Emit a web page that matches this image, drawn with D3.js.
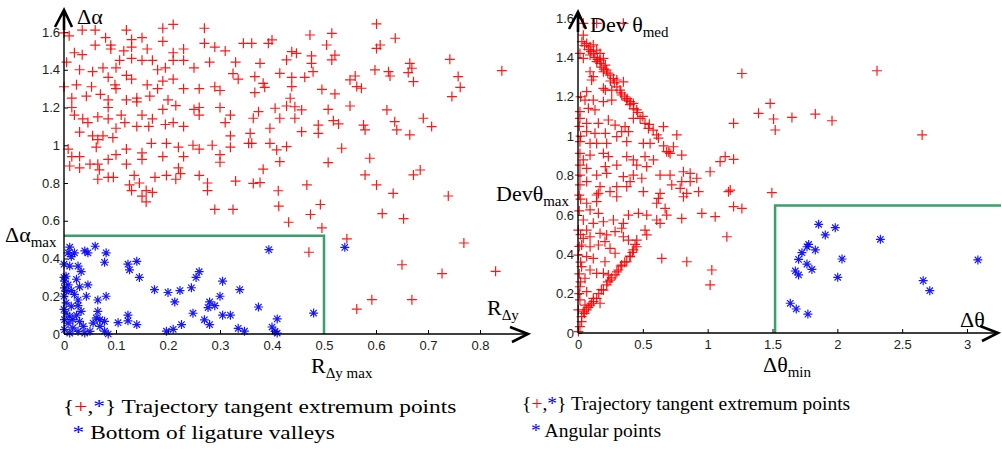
<!DOCTYPE html>
<meta charset="utf-8">
<style>
body{
	margin:0;
	background:#fff;
}
.tick text{
	font-family:"Liberation Sans",Arial,sans-serif;
	font-size:13px;
	fill:#222;
}
.tick line{
	stroke:#000;
}
.lbl{
	font-family:"Liberation Serif","Times New Roman",serif;
	font-size:22px;
	fill:#000;
}
.legend{
	font-family:"Liberation Serif","Times New Roman",serif;
	font-size:19.5px;
	fill:#000;
}
.axisline{
	stroke:#000;
	stroke-width:1.4px;
	fill:none;
}
.arrow{
	stroke:#000;
	stroke-width:2.6px;
	fill:none;
}
.limit{
	stroke:#3a9e6e;
	stroke-width:2.5px;
	fill:none;
}
.plus{
	stroke:#ff0000;
	stroke-width:1.2px;
	stroke-opacity:0.9;
	fill:none;
}
.star{
	stroke:#0000ff;
	stroke-width:1.2px;
	stroke-opacity:0.9;
	fill:none;
}
</style>
<body>
<script src="https://d3js.org/d3.v7.min.js"></script>
<script>

// left panel: R_dy vs delta alpha
var leftTangent=[
[0,1.595],[0.01,1.58],[0.035,1.61],[0.06,1.61],[0.08,1.57],[0.12,1.61],[0.13,1.56],[0.15,1.57],[0.19,1.62],[0.21,1.64],[0.27,1.62],[0.345,1.54],
[0.02,1.49],[0.035,1.48],[0.06,1.53],[0.09,1.53],[0.09,1.51],[0.115,1.50],[0.13,1.52],[0.16,1.51],[0.19,1.55],[0.21,1.49],[0.23,1.51],[0.27,1.54],[0.29,1.52],[0.31,1.50],
[0.005,1.44],[0.03,1.40],[0.055,1.39],[0.075,1.41],[0.10,1.41],[0.107,1.45],[0.13,1.46],[0.15,1.45],[0.17,1.45],[0.18,1.40],[0.195,1.41],[0.21,1.45],[0.23,1.45],[0.25,1.41],[0.28,1.44],[0.33,1.44],[0.325,1.38],
[0,1.31],[0.024,1.32],[0.053,1.31],[0.085,1.36],[0.098,1.32],[0.10,1.30],[0.12,1.37],[0.13,1.35],[0.16,1.32],[0.18,1.30],[0.19,1.34],[0.21,1.35],[0.23,1.30],[0.26,1.30],[0.29,1.31],[0.30,1.29],[0.335,1.35],
[0.015,1.25],[0.015,1.20],[0.043,1.26],[0.07,1.27],[0.085,1.24],[0.085,1.20],[0.12,1.24],[0.14,1.25],[0.14,1.23],[0.165,1.26],[0.20,1.24],[0.215,1.21],[0.19,1.19],[0.25,1.19],[0.26,1.20],[0.30,1.20],[0.32,1.16],
[0.02,1.16],[0.036,1.14],[0.046,1.12],[0.065,1.15],[0.085,1.14],[0.11,1.16],[0.117,1.12],[0.15,1.16],[0.17,1.14],[0.14,1.10],[0.163,1.10],[0.195,1.11],[0.21,1.12],[0.23,1.10],[0.26,1.16],[0.31,1.12],[0.32,1.05],
[0.008,0.98],[0.03,1.07],[0.055,1.05],[0.065,1.03],[0.062,0.99],[0.075,1.05],[0.094,1.04],[0.10,1.09],[0.12,0.98],[0.168,1.01],[0.197,1.01],[0.22,0.99],[0.248,1.00],[0.26,0.98],[0.285,1.00],[0.30,0.95],[0.32,0.99],[0.355,1.01],
[0.015,0.94],[0.03,0.94],[0.011,0.89],[0.03,0.88],[0.05,0.90],[0.065,0.90],[0.068,0.87],[0.085,0.925],[0.10,0.95],[0.12,0.90],[0.15,0.925],[0.15,0.96],[0.19,0.94],[0.22,0.88],[0.23,0.94],[0.30,0.91],
[0.065,0.82],[0.085,0.83],[0.095,0.83],[0.135,0.84],[0.175,0.83],[0.197,0.84],[0.215,0.82],[0.224,0.85],[0.26,0.84],[0.276,0.80],[0.33,0.81],[0.126,0.79],[0.145,0.80],
[0.13,0.76],[0.158,0.76],[0.17,0.75],[0.15,0.73],[0.276,0.76],
[0.158,0.70],[0.29,0.66],[0.325,0.66],
[0.413,0.677],[0.493,0.686],[0.474,0.633],[0.432,0.592],[0.496,0.562],[0.544,0.504],[0.612,0.638],[0.653,0.611],[0.471,0.433],[0.769,0.482],[0.65,0.367],[0.727,0.32],[0.83,0.332],[0.592,0.182],[0.669,0.182],[0.563,0.132],
[0.361,1.54],[0.393,1.54],[0.4,1.558],[0.473,1.584],[0.515,1.593],[0.601,1.643],[0.637,1.567],[0.608,1.531],[0.601,1.513],[0.505,1.531],[0.438,1.496],[0.447,1.487],[0.476,1.473],[0.521,1.478],[0.515,1.452],[0.476,1.434],[0.428,1.452],[0.377,1.434],[0.742,1.455],[0.842,1.395],
[0.665,1.434],[0.669,1.408],[0.662,1.385],[0.624,1.39],[0.627,1.367],[0.598,1.399],[0.672,1.337],[0.758,1.364],[0.762,1.307],[0.746,1.258],[0.367,1.364],[0.383,1.328],[0.386,1.307],[0.415,1.381],[0.438,1.36],[0.438,1.311],[0.463,1.36],[0.479,1.39],
[0.55,1.346],[0.56,1.367],[0.563,1.311],[0.572,1.302],[0.496,1.296],[0.521,1.272],[0.367,1.279],[0.435,1.249],[0.428,1.208],[0.444,1.204],[0.457,1.187],[0.406,1.196],[0.374,1.178],[0.364,1.143],[0.415,1.143],[0.444,1.143],[0.508,1.19],[0.55,1.208],
[0.621,1.187],[0.691,1.143],[0.707,1.099],[0.636,1.125],[0.64,1.081],[0.665,1.055],[0.576,1.107],[0.579,1.081],[0.518,1.13],[0.528,1.113],[0.489,1.107],[0.489,1.063],[0.457,1.072],[0.396,1.09],[0.358,1.063],[0.361,1.01],[0.396,1.01],[0.428,0.993],
[0.409,0.975],[0.534,0.984],[0.415,0.913],[0.508,0.908],[0.588,0.931],[0.383,0.873],[0.579,0.843],[0.672,0.843],[0.685,0.869],[0.364,0.798],[0.377,0.802],[0.412,0.759],[0.467,0.79],[0.601,0.79],[0.633,0.745],[0.739,0.731]
];
var leftValley=[
[0.011,0.46],[0.02,0.43],[0.008,0.43],[0.014,0.41],[0.04,0.44],[0.046,0.43],[0.06,0.465],[0.081,0.43],[0.078,0.38],[0,0.37],[0.011,0.36],[0.027,0.36],[0.033,0.33],
[0.123,0.37],[0.126,0.34],[0.14,0.385],[0.145,0.30],[0,0.30],[0.001,0.28],[0.008,0.26],[0.024,0.29],[0.03,0.25],[0.046,0.26],[0.014,0.23],[0.02,0.21],[0,0.20],
[0.027,0.18],[0.065,0.18],[0.081,0.20],[0.027,0.15],[0.174,0.235],[0.2,0.22],[0.213,0.17],[0.223,0.23],[0.245,0.245],[0.254,0.30],[0.26,0.33],[0.305,0.28],
[0.28,0.17],[0.30,0.20],[0.29,0.15],[0.277,0.14],[0.338,0.235],[0.32,0.10],[0.305,0.10],[0.248,0.11],[0.27,0.075],[0.28,0.05],[0.226,0.05],[0.197,0.015],
[0.21,0.025],[0.335,0.03],[0.347,0.015],[0.123,0.10],[0.123,0.07],[0.14,0.05],[0.104,0.06],[0.065,0.12],[0.062,0.085],[0.078,0.067],[0.069,0.04],[0.078,0.015],
[0.085,0],[0,0.13],[0.004,0.11],[0.011,0.094],[0.001,0.076],[0.008,0.058],[0.017,0.076],[0.024,0.10],[0.03,0.067],[0.037,0.04],[0.017,0.032],[0.001,0.023],
[0.011,0.005],[0.027,0.014],[0.04,0.005],[0.004,0.165],[0.014,0.147],[0.033,0.12],[0.043,0.2],[0.004,0.226],[0.001,0.244],[0.05,0.014],[0.056,0.058],[0.069,0.076],[0.004,0.306],
[0.394,0.447],[0.54,0.459],[0.374,0.143],[0.48,0.111],[0.41,0.08],[0.4,0.037],[0.406,0.014],[0.41,0.005]
];
var leftXTicks=[0,0.1,0.2,0.3,0.4,0.5,0.6,0.7,0.8];
var leftYTicks=[0,0.2,0.4,0.6,0.8,1,1.2,1.4,1.6];
var rDyMax=0.5, dAlphaMax=0.52;

// right panel: delta theta vs Dev theta
var rightTangent=[
[0.041,1.573],[0.144,1.573],[0.35,1.573],
[0.041,1.513],[0.067,1.471],[0.093,1.454],[0.118,1.463],[0.144,1.437],[0.17,1.42],[0.093,1.412],[0.015,1.42],[0.041,1.395],[0.17,1.386],[0.196,1.395],[0.144,1.378],
[0.211,1.361],[0.221,1.336],[0.093,1.327],[0.118,1.302],[0.105,1.285],[0.196,1.327],[0.247,1.31],[0.273,1.293],[0.299,1.285],[0.35,1.276],[0.196,1.243],[0.211,1.234],
[0.26,1.234],[0.324,1.234],[0.337,1.209],[0.376,1.183],[0.402,1.175],[0.427,1.166],[0.453,1.133],[0.067,1.226],[0.054,1.183],[0.118,1.183],[0.196,1.175],[0.26,1.183],
[0.015,1.124],[0.08,1.141],[0.131,1.133],[0.015,1.09],[0.067,1.065],[0.157,1.065],[0.234,1.082],[0.286,1.056],[0.363,1.048],[0.427,1.09],[0.479,1.09],[0.517,1.065],
[0.543,1.039],[0.659,1.048],[0.607,1.006],[0.762,1.006],[0.067,1.023],[0.131,1.014],[0.211,1.014],[0.337,1.023],[0.389,1.023],[0.299,0.997],[0.015,0.972],[0.093,0.963],
[0.144,0.963],[0.221,0.963],[0.376,0.972],[0.504,0.963],[0.556,0.963],[0.736,0.946],[0.684,0.921],[0.71,0.912],[0.8,0.904],[0.015,0.912],[0.041,0.879],[0.093,0.904],
[0.196,0.912],[0.234,0.896],[0.376,0.896],[0.427,0.879],[0.517,0.896],[0.582,0.879],[0.015,0.853],[0.067,0.836],[0.211,0.845],[0.299,0.853],[0.453,0.853],[0.53,0.845],
[0.633,0.802],[0.71,0.802],[0.813,0.819],[0.865,0.811],[0.916,0.786],[1.019,0.819],[1.096,0.87],[1.135,0.896],[1.2,0.882],[0.015,0.802],[0.144,0.802],[0.221,0.811],
[0.35,0.794],[0.427,0.802],[0.492,0.786],[0.8,0.769],[0.865,0.769],[0.93,0.718],[0.839,0.709],[1.174,0.726],[0.015,0.752],[0.067,0.769],[0.17,0.743],[0.299,0.743],
[0.376,0.743],[0.402,0.769],[0.504,0.718],[0.633,0.709],[0.723,0.752],[0.788,0.735],[0.157,0.709],[0.247,0.718],[0.299,0.692],
[1.264,1.318],[1.2,1.065],[2.306,1.332],[1.482,1.166],[1.392,1.116],[1.508,1.087],[1.521,1.031],[1.65,1.095],[1.83,1.112],[1.959,1.078],[2.654,1.006],[1.495,0.713],
[0.144,0.701],[0.067,0.659],[0.144,0.667],[0.093,0.625],[0.157,0.608],[0.041,0.574],[0.118,0.557],[0.196,0.565],[0.273,0.574],[0.35,0.557],[0.389,0.599],[0.466,0.608],
[0.53,0.599],[0.607,0.659],[0.62,0.684],[0.672,0.633],[0.684,0.599],[0.607,0.574],[0.633,0.557],[0.8,0.582],[0.813,0.692],[0.955,0.608],[1.058,0.591],[1.2,0.642],
[1.264,0.633],[1.148,0.489],[1.161,0.718],[0.003,0.523],[0.067,0.523],[0.041,0.481],[0.093,0.489],[0.17,0.506],[0.221,0.498],[0.286,0.515],[0.337,0.532],[0.35,0.489],
[0.389,0.472],[0.453,0.472],[0.517,0.523],[0.53,0.498],[0.028,0.447],[0.093,0.438],[0.157,0.447],[0.208,0.464],[0.247,0.43],[0.286,0.405],[0.003,0.396],[0.067,0.388],
[0.118,0.379],[0.208,0.362],[0.402,0.388],[0.427,0.422],[0.453,0.438],[0.376,0.362],[0.337,0.345],[0.311,0.32],[0.286,0.295],[0.247,0.269],[0.221,0.244],[0.196,0.218],
[0.144,0.176],[0.105,0.151],[0.067,0.117],[0.028,0.083],[0.015,0.032],[0.003,0.007],[0.028,0.337],[0.093,0.32],[0.144,0.303],[0.054,0.278],[0.015,0.235],[0.067,0.21],
[0.015,0.168],[0.054,0.142],[0.003,0.117],[0.041,0.108],[0.093,0.142],[0.17,0.151],[0.118,0.176],[0.028,0.058],[0.196,0.303],[0.234,0.295],[0.646,0.379],[0.839,0.362],
[1.032,0.32],[1.019,0.244],
[0.03,1.48],[0.05,1.46],[0.08,1.44],[0.1,1.43],[0.12,1.42],[0.13,1.40],[0.15,1.39],[0.17,1.37],[0.18,1.35],[0.2,1.34],[0.23,1.32],[0.25,1.28],[0.28,1.27],
[0.3,1.25],[0.33,1.22],[0.36,1.2],[0.38,1.19],[0.4,1.16],[0.43,1.14],[0.46,1.12],[0.5,1.1],[0.55,1.06],[0.58,1.03],[0.62,0.99],[0.66,0.95],[0.7,0.92],
[0.05,0.1],[0.08,0.13],[0.12,0.16],[0.16,0.2],[0.18,0.22],[0.23,0.26],[0.26,0.28],[0.3,0.31],[0.33,0.34],[0.36,0.36],[0.4,0.39],[0.42,0.41],[0.44,0.45],
[0.01,0.2],[0.02,0.26],[0.01,0.3],[0.02,0.36],[0.01,0.44],[0.02,0.5],[0.01,0.62],[0.02,0.68],[0.01,0.7],[0.02,1.0],[0.01,1.05],[0.02,1.2]
];
var rightAngular=[
[1.856,0.552],[1.984,0.535],[1.907,0.498],[1.779,0.45],[1.766,0.438],[1.83,0.422],[1.727,0.408],[1.701,0.374],[1.766,0.35],[1.804,0.323],[1.676,0.315],
[1.701,0.295],[2.036,0.376],[2.003,0.283],[2.332,0.476],[3.084,0.371],[2.662,0.266],[2.713,0.215],[1.637,0.151],[1.683,0.122],[1.773,0.096]
];
var rightXTicks=[0,0.5,1,1.5,2,2.5,3];
var rightYTicks=[0,0.2,0.4,0.6,0.8,1,1.2,1.4,1.6];
var dThetaMin=1.52, devThetaMax=0.647;

var svg=d3.select("body").append("svg").attr("width",1002).attr("height",449);

var plusPath="M-5,0H5M0,-5V5";
var starPath="M-4.5,0H4.5M0,-4.5V4.5M-3.2,-3.2L3.2,3.2M-3.2,3.2L3.2,-3.2";

function panel(o){
	var x=d3.scaleLinear().domain(o.xDomain).range(o.xRange);
	var y=d3.scaleLinear().domain(o.yDomain).range(o.yRange);
	var g=svg.append("g");
	var x0=x.range()[0], y0=y.range()[0];

	g.append("g").attr("transform","translate(0,"+y0+")")
		.call(d3.axisBottom(x).tickValues(o.xTicks).tickFormat(d=>String(d))
			.tickSizeInner(-4).tickSizeOuter(0).tickPadding(7))
		.call(a=>a.select(".domain").remove());
	g.append("g").attr("transform","translate("+x0+",0)")
		.call(d3.axisLeft(y).tickValues(o.yTicks).tickFormat(d=>String(d))
			.tickSizeInner(-4).tickSizeOuter(0).tickPadding(4))
		.call(a=>a.select(".domain").remove());

	// threshold box
	g.append("path").attr("class","limit")
		.attr("d",o.box(x,y));

	g.append("g").selectAll("path").data(o.red).enter().append("path")
		.attr("class","plus")
		.attr("transform",d=>"translate("+x(d[0])+","+y(d[1])+")")
		.attr("d",plusPath);
	g.append("g").selectAll("path").data(o.blue).enter().append("path")
		.attr("class","star")
		.attr("transform",d=>"translate("+x(d[0])+","+y(d[1])+")")
		.attr("d",starPath);

	// axes with arrows
	var xt=o.xEnd, yt=o.yEnd;
	g.append("path").attr("class","axisline").attr("d","M"+x0+","+y0+"H"+xt+"M"+x0+","+y0+"V"+yt);
	g.append("path").attr("class","arrow")
		.attr("d","M"+(xt-18)+","+(y0-7)+"L"+xt+","+y0+"L"+(xt-16)+","+(y0+8));
	g.append("path").attr("class","arrow")
		.attr("d","M"+(x0-9)+","+(yt+17)+"L"+x0+","+yt+"L"+(x0+8)+","+(yt+17)+"M"+x0+","+yt+"V"+(yt+20));
	return {x:x,y:y,g:g};
}

var L=panel({
	xDomain:[0,0.8], xRange:[64,480], yDomain:[0,1.6], yRange:[334,32],
	xTicks:leftXTicks, yTicks:leftYTicks, xEnd:528, yEnd:10,
	red:leftTangent, blue:leftValley,
	box:(x,y)=>"M"+x(0)+","+y(dAlphaMax)+"H"+x(rDyMax)+"V"+y(0)
});
var R=panel({
	xDomain:[0,3], xRange:[578,967], yDomain:[0,1.6], yRange:[333,18],
	xTicks:rightXTicks, yTicks:rightYTicks, xEnd:998, yEnd:12,
	red:rightTangent, blue:rightAngular,
	box:(x,y)=>"M"+x(dThetaMin)+","+y(0)+"V"+y(devThetaMax)+"H1001"
});

function label(g,x,y,main,sub){
	var t=g.append("text").attr("class","lbl").attr("x",x).attr("y",y).text(main);
	if(sub) t.append("tspan").attr("dy",5).style("font-size","15px").text(sub);
}
label(L.g,77,24,"\u0394\u03b1");
label(L.g,5,242,"\u0394\u03b1","max");
label(L.g,487,315,"R","\u0394y");
label(L.g,311,373,"R","\u0394y max");
label(R.g,590,32,"Dev \u03b8","med");
label(R.g,496,201,"Dev\u03b8","max");
label(R.g,960,327,"\u0394\u03b8");
label(R.g,763,372,"\u0394\u03b8","min");

function legend(x,y,line2,x2,gap,sx){
	var g=svg.append("g").attr("transform","translate("+x+","+y+") scale("+sx+",1)");
	var t=g.append("text").attr("class","legend");
	t.append("tspan").text("{");
	t.append("tspan").style("fill","#ff0000").text("+");
	t.append("tspan").text(",");
	t.append("tspan").style("fill","#0000ff").text("*");
	t.append("tspan").text("} Trajectory tangent extremum points");
	var s=g.append("text").attr("class","legend").attr("x",x2).attr("y",gap);
	s.append("tspan").style("fill","#0000ff").text("* ");
	s.append("tspan").text(line2);
}
legend(63,413,"Bottom of ligature valleys",8,26,1.2);
legend(522,410,"Angular points",9,27,1);
</script>
</body>
</html>
